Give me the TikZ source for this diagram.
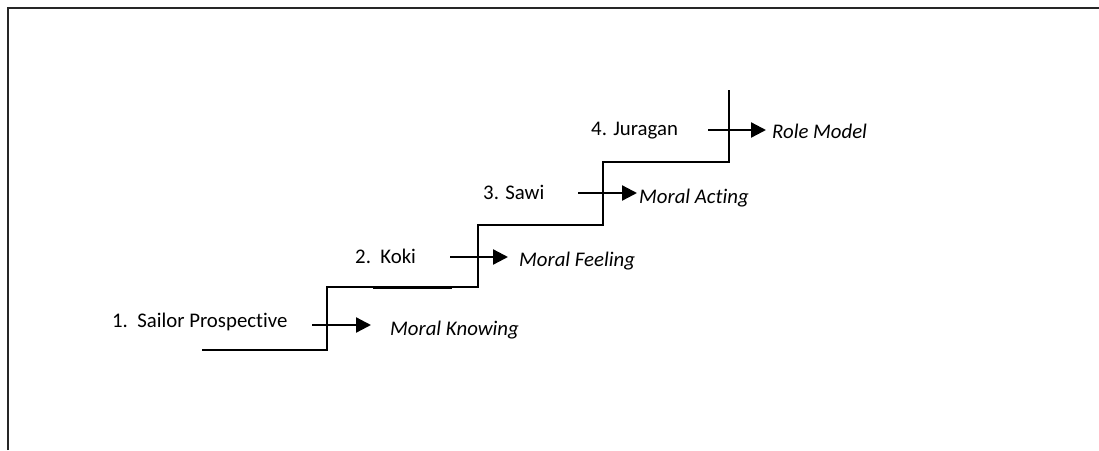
\documentclass[tikz,border=0pt]{standalone}
\usepackage{fontspec}
\setmainfont[Ligatures={NoCommon}]{Carlito}
\usetikzlibrary{arrows.meta}
\begin{document}
\begin{tikzpicture}[x=1pt,y=-1pt,
  stair/.style={line width=1.8pt,line join=miter},
  flow/.style={line width=2.3pt,-{Triangle[length=15pt,width=15pt]}},
  lbl/.style={anchor=base west,inner sep=0pt,font=\fontsize{20.8}{24}\selectfont},
  ital/.style={lbl,font=\fontsize{20.8}{24}\selectfont\itshape},
  frame/.style={line width=2.2pt,draw=black!85}]
\useasboundingbox (0,0) rectangle (1099,450);
% frame
\coordinate (f1) at (8,450);
\coordinate (f2) at (8,8);
\coordinate (f3) at (1099,8);
\draw[frame] (f1) -- (f2) -- (f3);
% stairs
\coordinate (s0) at (202,350);
\coordinate (s1) at (327,350);
\coordinate (s2) at (327,287);
\coordinate (s3) at (478,287);
\coordinate (s4) at (478,225);
\coordinate (s5) at (603,225);
\coordinate (s6) at (603,162);
\coordinate (s7) at (729,162);
\coordinate (s8) at (729,90);
\draw[stair] (s0) -- (s1) -- (s2) -- (s3) -- (s4) -- (s5) -- (s6) -- (s7) -- (s8);
% slightly heavier overlapping strokes
\coordinate (t1) at (373,287.3);
\coordinate (t2) at (452,287.3);
\coordinate (t3) at (478,225.3);
\coordinate (t4) at (583,225.3);
\draw[line width=2.4pt] (t1) -- (t2);
\draw[line width=2.3pt] (t3) -- (t4);
% arrows
\coordinate (a1s) at (312,325);
\coordinate (a1e) at (371,325);
\coordinate (a2s) at (450,257);
\coordinate (a2e) at (508,257);
\coordinate (a3s) at (578,193);
\coordinate (a3e) at (637,193);
\coordinate (a4s) at (708,130);
\coordinate (a4e) at (766,130);
\draw[flow] (a1s) -- (a1e);
\draw[flow] (a2s) -- (a2e);
\draw[flow] (a3s) -- (a3e);
\draw[flow] (a4s) -- (a4e);
% labels
\node[lbl] (l1) at (112,327) {1.\hspace{0.45em}Sailor Prospective};
\node[ital] (m1) at (390,335) {Moral Knowing};
\node[lbl] (l2) at (355,263) {2.\hspace{0.45em}Koki};
\node[ital] (m2) at (519,266) {Moral Feeling};
\node[lbl] (l3) at (483,199) {3. Sawi};
\node[ital] (m3) at (639,203) {Moral Acting};
\node[lbl] (l4) at (591,135) {4. Juragan};
\node[ital] (m4) at (772,138) {Role Model};
\end{tikzpicture}
\end{document}
